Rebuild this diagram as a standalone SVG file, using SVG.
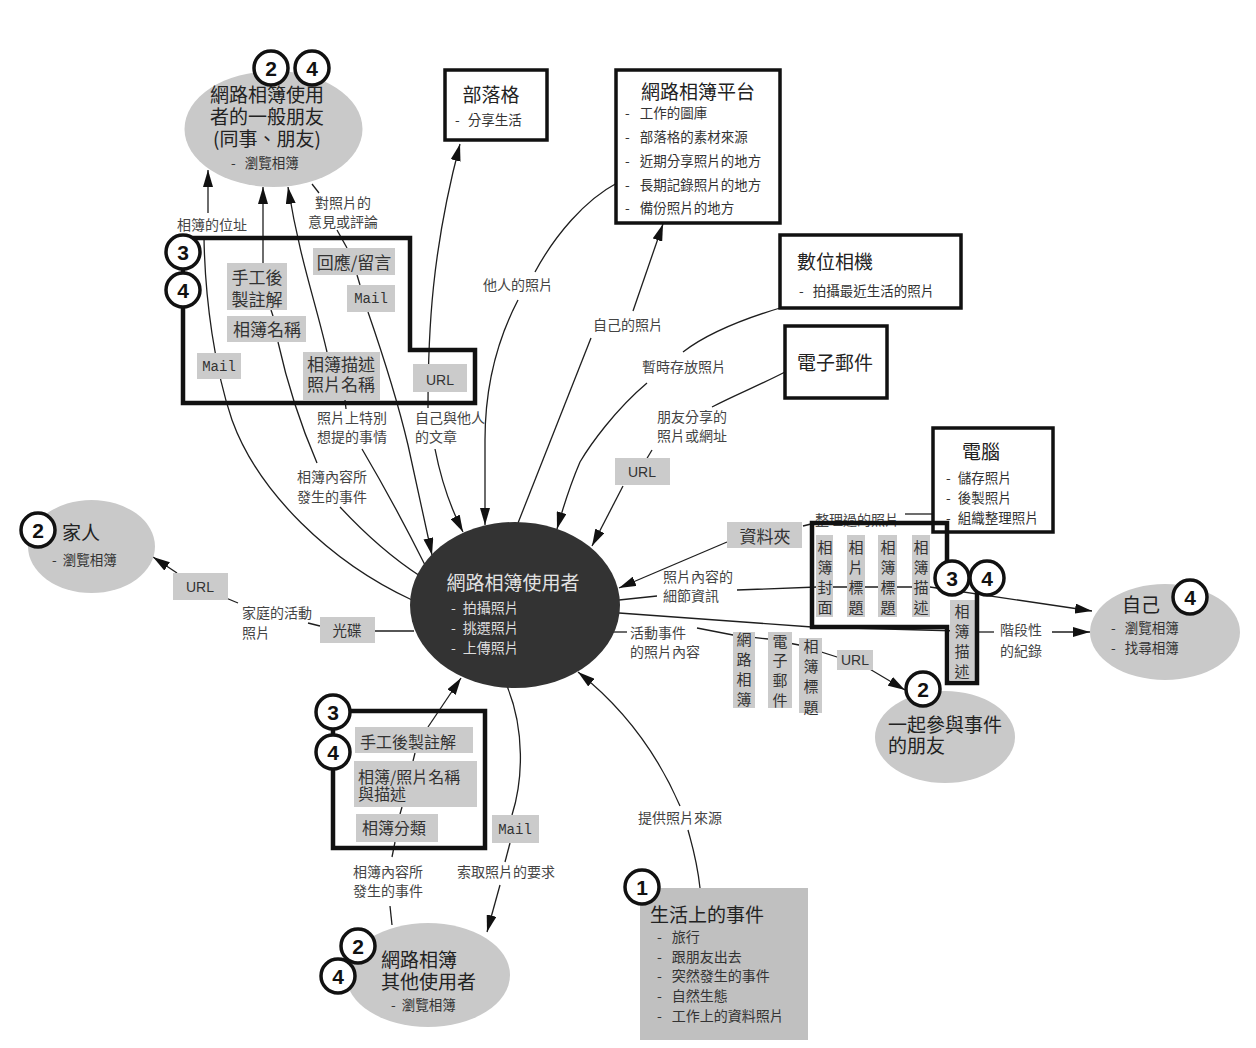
<svg xmlns="http://www.w3.org/2000/svg" width="1256" height="1048" viewBox="0 0 1256 1048">
<defs>
  <marker id="ah" viewBox="0 0 17 10" refX="17" refY="5" markerWidth="17" markerHeight="10" markerUnits="userSpaceOnUse" orient="auto">
    <path d="M0,0 L17,5 L0,10 Z" fill="#111"/>
  </marker>
</defs>
<style>
  text{font-family:"Noto Sans CJK TC","Noto Sans CJK SC",sans-serif;}
  .ln{fill:none;stroke:#1e1e1e;stroke-width:1.3}
  .ar{marker-end:url(#ah)}
  .lbl{font-size:14px;fill:#444}
  .mid{text-anchor:middle}
  .tag{fill:#cbcbcb}
  .tagt{font-size:17px;fill:#333}
  .tagb{font-size:16px;fill:#333}
  .vt{font-size:15px;fill:#333;text-anchor:middle}
  .mono{font-family:"Liberation Mono",monospace;font-size:14px;fill:#333;text-anchor:middle}
  .url{font-family:"Liberation Sans",sans-serif;font-size:14px;fill:#333;text-anchor:middle}
  .ttl{font-size:19px;fill:#222}
  .itm{font-size:13.5px;fill:#333}
  .box{fill:#fff;stroke:#111;stroke-width:3.5}
  .grp{fill:none;stroke:#111;stroke-width:4.5}
  .ell{fill:#c9c9c9}
  .bd circle{fill:#fff;stroke:#111;stroke-width:3.5}
  .bd text{font-family:"Liberation Sans",sans-serif;font-weight:bold;font-size:21px;fill:#111;text-anchor:middle}
</style>
<rect width="1256" height="1048" fill="#fff"/>

<!-- connectors -->
<g id="connectors">
  <!-- 相簿的位址 (via Mail) -->
  <path class="ln" d="M412,600 C330,562 258,492 232,420 C215,370 205,300 204,238"/>
  <path class="ln ar" d="M208,213 L208,170"/>
  <!-- 相簿內容所發生的事件 (top) -->
  <path class="ln ar" d="M263,263 L263,187"/>
  <path class="ln" d="M271,310 L273,316"/>
  <path class="ln" d="M278,342 Q292,405 317,463"/>
  <path class="ln" d="M340,507 Q380,550 420,576"/>
  <!-- 照片上特別想提的事情 -->
  <path class="ln ar" d="M327,352 C315,300 300,260 288,187"/>
  <path class="ln" d="M345,400 L346,409"/>
  <path class="ln" d="M362,449 Q395,505 426,567"/>
  <!-- 對照片的意見或評論 -->
  <path class="ln" d="M312,184 L319,193"/>
  <path class="ln" d="M337,230 L347,248"/>
  <path class="ln" d="M357,275 L360,285"/>
  <path class="ln ar" d="M368,312 Q395,390 408,445 Q420,500 432,555"/>
  <!-- 部落格 / 自己與他人的文章 -->
  <path class="ln ar" d="M428,408 C428,330 432,250 460,144"/>
  <path class="ln ar" d="M435,449 Q444,495 463,532"/>
  <!-- 他人的照片 -->
  <path class="ln" d="M617,183 C585,200 555,235 535,272"/>
  <path class="ln ar" d="M518,300 C492,350 485,400 485,440 L485,525"/>
  <!-- 自己的照片 -->
  <path class="ln" d="M518,523 L591,338"/>
  <path class="ln ar" d="M633,311 L663,224"/>
  <!-- 暫時存放照片 -->
  <path class="ln" d="M780,308 C740,320 705,335 683,352"/>
  <path class="ln ar" d="M647,383 C615,410 590,445 580,462 Q568,490 557,529"/>
  <!-- 朋友分享的照片或網址 -->
  <path class="ln" d="M785,372 C760,385 735,395 712,407"/>
  <path class="ln" d="M652,450 L646,460"/>
  <path class="ln ar" d="M623,486 L592,546"/>
  <!-- 整理過的照片 / 資料夾 -->
  <path class="ln" d="M933,514 L905,514"/>
  <path class="ln" d="M815,523 L803,526"/>
  <path class="ln ar" d="M727,542 L619,588"/>
  <!-- 照片內容的細節資訊 -->
  <path class="ln" d="M619,600 L657,596"/>
  <path class="ln ar" d="M737,590 L817,587 L930,587 L1092,611"/>
  <!-- 階段性的紀錄 -->
  <path class="ln" d="M619,613 L812,627 L960,631"/>
  <path class="ln" d="M976,632 L994,632"/>
  <path class="ln ar" d="M1052,632 L1090,632"/>
  <!-- 活動事件的照片內容 -->
  <path class="ln" d="M613,632 L627,632"/>
  <path class="ln ar" d="M697,628 L733,635 L768,639 L799,645 L837,657 L868,668 L905,690"/>
  <!-- 光碟 / 家庭的活動照片 -->
  <path class="ln" d="M414,631 L375,631"/>
  <path class="ln" d="M320,626 L308,623"/>
  <path class="ln" d="M238,603 L226,598"/>
  <path class="ln ar" d="M177,573 L153,557"/>
  <!-- 下方群組 -->
  <path class="ln ar" d="M428,727 L461,678"/>
  <path class="ln" d="M415,753 L413,761"/>
  <path class="ln" d="M402,807 L400,814"/>
  <path class="ln" d="M395,842 L392,857"/>
  <path class="ln" d="M390,906 L392,925"/>
  <!-- 索取照片的要求 -->
  <path class="ln" d="M507,686 C525,730 523,780 512,815"/>
  <path class="ln" d="M510,843 L505,862"/>
  <path class="ln ar" d="M500,885 L487,932"/>
  <!-- 提供照片來源 -->
  <path class="ln" d="M700,888 C697,860 692,845 688,830"/>
  <path class="ln ar" d="M680,806 Q645,725 578,672"/>

  <!-- plain text labels -->
  <text class="lbl mid" x="212" y="230">相簿的位址</text>
  <text class="lbl mid" x="343" y="208">對照片的<tspan x="343" dy="19">意見或評論</tspan></text>
  <text class="lbl" x="317" y="423">照片上特別<tspan x="317" dy="19">想提的事情</tspan></text>
  <text class="lbl" x="415" y="423">自己與他人<tspan x="415" dy="19">的文章</tspan></text>
  <text class="lbl" x="297" y="482">相簿內容所<tspan x="297" dy="20">發生的事件</tspan></text>
  <text class="lbl" x="483" y="290">他人的照片</text>
  <text class="lbl" x="593" y="330">自己的照片</text>
  <text class="lbl" x="642" y="372">暫時存放照片</text>
  <text class="lbl" x="657" y="422">朋友分享的<tspan x="657" dy="19">照片或網址</tspan></text>
  <text class="lbl" x="815" y="525">整理過的照片</text>
  <text class="lbl" x="663" y="582">照片內容的<tspan x="663" dy="19">細節資訊</tspan></text>
  <text class="lbl" x="630" y="638">活動事件<tspan x="630" dy="19">的照片內容</tspan></text>
  <text class="lbl" x="1000" y="635">階段性<tspan x="1000" dy="21">的紀錄</tspan></text>
  <text class="lbl" x="242" y="618">家庭的活動<tspan x="242" dy="20">照片</tspan></text>
  <text class="lbl" x="353" y="877">相簿內容所<tspan x="353" dy="19">發生的事件</tspan></text>
  <text class="lbl" x="457" y="877">索取照片的要求</text>
  <text class="lbl" x="638" y="823">提供照片來源</text>

  <!-- tag labels -->
  <rect class="tag" x="227" y="263" width="60" height="47"/>
  <text class="tagt mid" x="257" y="284">手工後<tspan x="257" dy="22">製註解</tspan></text>
  <rect class="tag" x="227" y="316" width="79" height="26"/>
  <text class="tagt mid" x="267" y="336">相簿名稱</text>
  <rect class="tag" x="313" y="248" width="82" height="27"/>
  <text class="tagt mid" x="354" y="269">回應/留言</text>
  <rect class="tag" x="347" y="285" width="48" height="27"/>
  <text class="mono" x="371" y="303">Mail</text>
  <rect class="tag" x="197" y="353" width="44" height="26"/>
  <text class="mono" x="219" y="371">Mail</text>
  <rect class="tag" x="303" y="352" width="77" height="48"/>
  <text class="tagt mid" x="341" y="371">相簿描述<tspan x="341" dy="20">照片名稱</tspan></text>
  <rect class="tag" x="413" y="364" width="54" height="28"/>
  <text class="url" x="440" y="385">URL</text>

  <rect class="tag" x="173" y="573" width="55" height="27"/>
  <text class="url" x="200" y="592">URL</text>
  <rect class="tag" x="320" y="617" width="55" height="26"/>
  <text class="tagb mid" x="347" y="636" style="font-size:14.5px">光碟</text>
  <rect class="tag" x="615" y="458" width="55" height="27"/>
  <text class="url" x="642" y="477">URL</text>
  <rect class="tag" x="727" y="522" width="75" height="26"/>
  <text class="tagt mid" x="765" y="543">資料夾</text>

  <rect class="tag" x="816" y="535" width="17" height="82"/>
  <text class="vt" x="825" y="553">相<tspan x="825" dy="20">簿</tspan><tspan x="825" dy="19.5">封</tspan><tspan x="825" dy="20">面</tspan></text>
  <rect class="tag" x="847" y="535" width="18" height="82"/>
  <text class="vt" x="856" y="553">相<tspan x="856" dy="20">片</tspan><tspan x="856" dy="19.5">標</tspan><tspan x="856" dy="20">題</tspan></text>
  <rect class="tag" x="878" y="535" width="19" height="82"/>
  <text class="vt" x="888" y="553">相<tspan x="888" dy="20">簿</tspan><tspan x="888" dy="19.5">標</tspan><tspan x="888" dy="20">題</tspan></text>
  <rect class="tag" x="912" y="535" width="18" height="82"/>
  <text class="vt" x="921" y="553">相<tspan x="921" dy="20">簿</tspan><tspan x="921" dy="19.5">描</tspan><tspan x="921" dy="20">述</tspan></text>
  <rect class="tag" x="950" y="600" width="25" height="80"/>
  <text class="vt" x="962" y="617">相<tspan x="962" dy="20">簿</tspan><tspan x="962" dy="20">描</tspan><tspan x="962" dy="19.5">述</tspan></text>

  <rect class="tag" x="733" y="632" width="22" height="76"/>
  <text class="vt" x="744" y="645">網<tspan x="744" dy="20">路</tspan><tspan x="744" dy="20">相</tspan><tspan x="744" dy="20">簿</tspan></text>
  <rect class="tag" x="768" y="632" width="24" height="76"/>
  <text class="vt" x="780" y="647">電<tspan x="780" dy="19">子</tspan><tspan x="780" dy="20">郵</tspan><tspan x="780" dy="20">件</tspan></text>
  <rect class="tag" x="799" y="638" width="23" height="75"/>
  <text class="vt" x="811" y="652">相<tspan x="811" dy="20">簿</tspan><tspan x="811" dy="20">標</tspan><tspan x="811" dy="21">題</tspan></text>
  <rect class="tag" x="837" y="650" width="36" height="20"/>
  <text class="url" x="855" y="665">URL</text>

  <rect class="tag" x="355" y="727" width="118" height="26"/>
  <text class="tagb" x="360" y="748">手工後製註解</text>
  <rect class="tag" x="354" y="761" width="123" height="46"/>
  <text class="tagb" x="358" y="783">相簿/照片名稱<tspan x="358" dy="17">與描述</tspan></text>
  <rect class="tag" x="356" y="814" width="82" height="28"/>
  <text class="tagb" x="362" y="834">相簿分類</text>
  <rect class="tag" x="492" y="815" width="47" height="28"/>
  <text class="mono" x="515" y="834">Mail</text>
</g>

<!-- 網路相簿使用者的一般朋友 -->
<g id="friends">
  <ellipse class="ell" cx="273.5" cy="129" rx="89" ry="58"/>
  <text class="ttl mid" x="267" y="102">網路相簿使用<tspan x="267" dy="22">者的一般朋友</tspan><tspan x="267" dy="22">(同事、朋友)</tspan></text>
  <text class="itm" x="231" y="168">-<tspan dx="9">瀏覽相簿</tspan></text>
</g>

<!-- 部落格 -->
<g id="blog">
  <rect class="box" x="445" y="70" width="102" height="70"/>
  <text class="ttl mid" x="491" y="102">部落格</text>
  <text class="itm" x="455" y="125">-<tspan dx="8">分享生活</tspan></text>
</g>

<!-- 網路相簿平台 -->
<g id="platform">
  <rect class="box" x="616" y="70" width="164" height="153"/>
  <text class="ttl mid" x="698" y="99">網路相簿平台</text>
  <text class="itm" x="625" y="118">-<tspan dx="10">工作的圖庫</tspan></text>
  <text class="itm" x="625" y="142">-<tspan dx="10">部落格的素材來源</tspan></text>
  <text class="itm" x="625" y="166">-<tspan dx="10">近期分享照片的地方</tspan></text>
  <text class="itm" x="625" y="190">-<tspan dx="10">長期記錄照片的地方</tspan></text>
  <text class="itm" x="625" y="213">-<tspan dx="10">備份照片的地方</tspan></text>
</g>

<!-- 數位相機 -->
<g id="camera">
  <rect class="box" x="780" y="235" width="181" height="73"/>
  <text class="ttl" x="797" y="269">數位相機</text>
  <text class="itm" x="799" y="296">-<tspan dx="9">拍攝最近生活的照片</tspan></text>
</g>

<!-- 電子郵件 -->
<g id="email">
  <rect class="box" x="785" y="326" width="102" height="72"/>
  <text class="ttl mid" x="835" y="370">電子郵件</text>
</g>

<!-- 電腦 -->
<g id="computer">
  <rect class="box" x="933" y="428" width="120" height="104"/>
  <text class="ttl" x="962" y="459">電腦</text>
  <text class="itm" x="946" y="483">-<tspan dx="7">儲存照片</tspan></text>
  <text class="itm" x="946" y="503">-<tspan dx="7">後製照片</tspan></text>
  <text class="itm" x="946" y="523">-<tspan dx="7">組織整理照片</tspan></text>
</g>

<!-- 網路相簿使用者 -->
<g id="user">
  <ellipse cx="515" cy="605" rx="105" ry="83" fill="#333"/>
  <text class="ttl mid" x="513" y="590" style="fill:#e2e2e2">網路相簿使用者</text>
  <text class="itm" x="451" y="613" style="fill:#ddd;font-size:14px">-<tspan dx="7">拍攝照片</tspan></text>
  <text class="itm" x="451" y="633" style="fill:#ddd;font-size:14px">-<tspan dx="7">挑選照片</tspan></text>
  <text class="itm" x="451" y="653" style="fill:#ddd;font-size:14px">-<tspan dx="7">上傳照片</tspan></text>
</g>

<!-- 家人 -->
<g id="family">
  <ellipse class="ell" cx="91.5" cy="546.5" rx="63.5" ry="46.5"/>
  <text class="ttl" x="62" y="540">家人</text>
  <text class="itm" x="52" y="565">-<tspan dx="6">瀏覽相簿</tspan></text>
</g>

<!-- 自己 -->
<g id="self">
  <ellipse class="ell" cx="1165" cy="632" rx="75" ry="48"/>
  <text class="ttl" x="1122" y="612">自己</text>
  <text class="itm" x="1111" y="633">-<tspan dx="9">瀏覽相簿</tspan></text>
  <text class="itm" x="1111" y="653">-<tspan dx="9">找尋相簿</tspan></text>
</g>

<!-- 一起參與事件的朋友 -->
<g id="event-friends">
  <ellipse class="ell" cx="945" cy="737" rx="70" ry="46"/>
  <text class="ttl" x="888" y="732">一起參與事件<tspan x="888" dy="21">的朋友</tspan></text>
</g>

<!-- 網路相簿其他使用者 -->
<g id="other-users">
  <ellipse class="ell" cx="428" cy="975" rx="82" ry="52"/>
  <text class="ttl" x="381" y="967">網路相簿<tspan x="381" dy="22">其他使用者</tspan></text>
  <text class="itm" x="391" y="1010">-<tspan dx="6">瀏覽相簿</tspan></text>
</g>

<!-- 生活上的事件 -->
<g id="life-events">
  <rect x="640" y="888" width="168" height="152" fill="#c0c0c0"/>
  <text class="ttl" x="650" y="922">生活上的事件</text>
  <text class="itm" x="657" y="942" style="font-size:14px">-<tspan dx="10">旅行</tspan></text>
  <text class="itm" x="657" y="962" style="font-size:14px">-<tspan dx="10">跟朋友出去</tspan></text>
  <text class="itm" x="657" y="981" style="font-size:14px">-<tspan dx="10">突然發生的事件</tspan></text>
  <text class="itm" x="657" y="1001" style="font-size:14px">-<tspan dx="10">自然生態</tspan></text>
  <text class="itm" x="657" y="1021" style="font-size:14px">-<tspan dx="10">工作上的資料照片</tspan></text>
</g>

<!-- 群組外框 -->
<g id="group-top">
  <polygon class="grp" points="183,238 410,238 410,350 475,350 475,403 183,403"/>
</g>
<g id="group-right">
  <polygon class="grp" points="812,523 947,523 947,578 977,578 977,683 947,683 947,627 812,627"/>
</g>
<g id="group-bottom">
  <rect class="grp" x="333" y="711" width="152" height="137"/>
</g>

<!-- 編號標記 -->
<g id="badges">
  <g class="bd"><circle cx="271" cy="68" r="17"/><text x="271" y="75.5">2</text></g>
  <g class="bd"><circle cx="312" cy="68" r="17"/><text x="312" y="75.5">4</text></g>
  <g class="bd"><circle cx="183" cy="252" r="17"/><text x="183" y="259.5">3</text></g>
  <g class="bd"><circle cx="183" cy="290" r="17"/><text x="183" y="297.5">4</text></g>
  <g class="bd"><circle cx="38" cy="530" r="17"/><text x="38" y="537.5">2</text></g>
  <g class="bd"><circle cx="952" cy="578" r="17"/><text x="952" y="585.5">3</text></g>
  <g class="bd"><circle cx="987" cy="578" r="17"/><text x="987" y="585.5">4</text></g>
  <g class="bd"><circle cx="1190" cy="597" r="17"/><text x="1190" y="604.5">4</text></g>
  <g class="bd"><circle cx="923" cy="689" r="17"/><text x="923" y="696.5">2</text></g>
  <g class="bd"><circle cx="333" cy="712" r="17"/><text x="333" y="719.5">3</text></g>
  <g class="bd"><circle cx="333" cy="752" r="17"/><text x="333" y="759.5">4</text></g>
  <g class="bd"><circle cx="358" cy="946" r="17"/><text x="358" y="953.5">2</text></g>
  <g class="bd"><circle cx="338" cy="976" r="17"/><text x="338" y="983.5">4</text></g>
  <g class="bd"><circle cx="642" cy="887" r="17"/><text x="642" y="894.5">1</text></g>
</g>
</svg>
